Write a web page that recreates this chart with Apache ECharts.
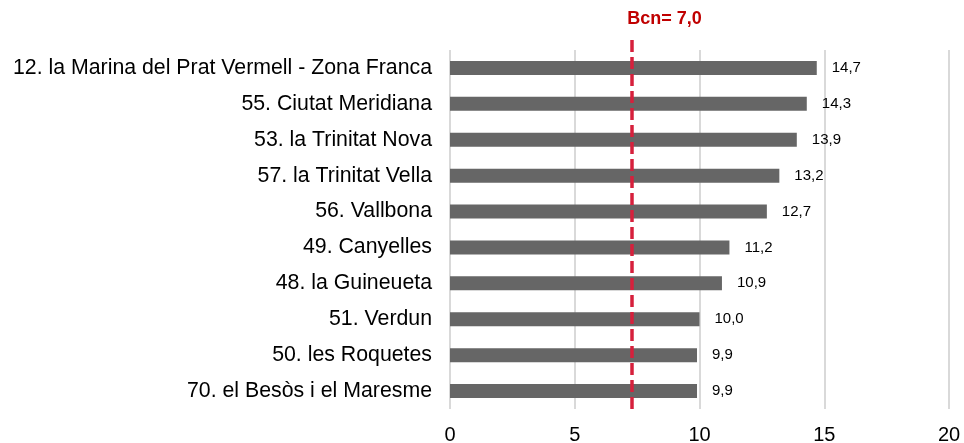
<!DOCTYPE html>
<html>
<head>
<meta charset="utf-8">
<script src="https://cdn.jsdelivr.net/npm/echarts@6/dist/echarts.min.js"></script>
<style>
  html, body { margin: 0; padding: 0; background: #fff; }
  #chart { width: 964px; height: 443px; }
</style>
</head>
<body>
<div id="chart"></div>
<script>
const categories = [
  '12. la Marina del Prat Vermell - Zona Franca',
  '55. Ciutat Meridiana',
  '53. la Trinitat Nova',
  '57. la Trinitat Vella',
  '56. Vallbona',
  '49. Canyelles',
  '48. la Guineueta',
  '51. Verdun',
  '50. les Roquetes',
  '70. el Besòs i el Maresme'
]
const values = [14.7, 14.3, 13.9, 13.2, 12.7, 11.2, 10.9, 10.0, 9.9, 9.9]
const bcnValue = 7.0
const bcnLinePos = 7.3 // where the dashed line sits in the picture
const xTicks = [0, 5, 10, 15, 20]

const fmt = v => v.toFixed(1).replace('.', ',')
const font = 'Liberation Sans, Arial, sans-serif'

const chart = echarts.init(document.getElementById('chart'))

chart.setOption({
  animation: false,
  textStyle: { fontFamily: font },
  grid: {
    left: 450,
    right: 15,
    top: 50,
    bottom: 34,
    containLabel: false,
    outerBoundsMode: 'none'
  },
  xAxis: {
    type: 'value',
    min: xTicks[0],
    max: xTicks[xTicks.length - 1],
    interval: 5,
    axisLine: { show: false },
    axisTick: { show: false },
    axisLabel: { color: '#000', fontSize: 20, margin: 16 },
    splitLine: { show: true, lineStyle: { color: '#d9d9d9', width: 2 } }
  },
  yAxis: {
    type: 'category',
    data: categories,
    inverse: true,
    axisLine: { show: false },
    axisTick: { show: false },
    axisLabel: { color: '#000', fontSize: 21.3, margin: 18 }
  },
  series: [{
    type: 'bar',
    data: values,
    barWidth: 14,
    itemStyle: { color: '#666666' },
    label: {
      show: true,
      position: 'right',
      distance: 15,
      color: '#000',
      fontSize: 15,
      formatter: p => fmt(p.value)
    },
    markLine: {
      silent: true,
      symbol: 'none',
      lineStyle: { color: '#d6203c', width: 3.5, type: [12, 5] },
      label: {
        show: true,
        position: 'start',
        distance: 12,
        align: 'left',
        offset: [-5, 0],
        color: '#c00000',
        fontWeight: 'bold',
        fontSize: 18,
        formatter: () => 'Bcn= ' + fmt(bcnValue)
      },
      // the line runs a little past the plot area, top and bottom
      data: [[{ xAxis: bcnLinePos, y: 40 }, { xAxis: bcnLinePos, y: 412 }]]
    }
  }]
})
</script>
</body>
</html>
